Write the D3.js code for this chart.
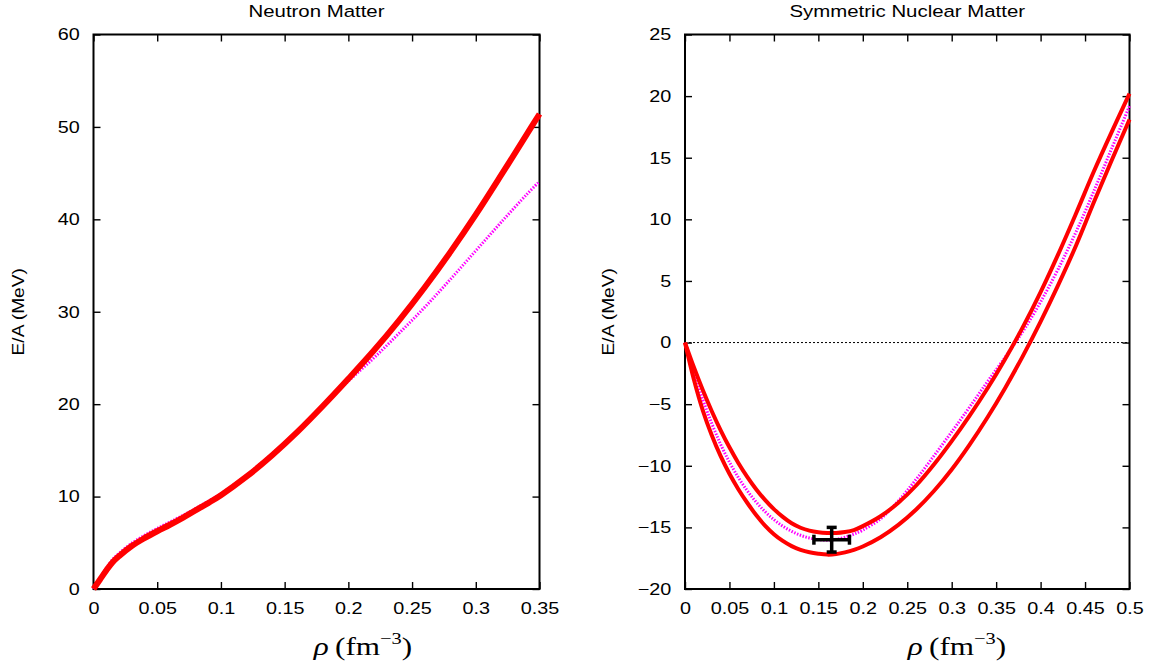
<!DOCTYPE html>
<html>
<head>
<meta charset="utf-8">
<script src="https://cdn.jsdelivr.net/npm/d3@7"></script>
<style>
body { margin: 0; background: #fff; }
svg text { font-family: "Liberation Sans", Arial, Helvetica, sans-serif; fill: #000; }
</style>
</head>
<body>
<svg id="chart" width="1153" height="666"></svg>
<script>
// ---- neutron matter (left panel) ----
var nmRho     = [0, 0.005, 0.01, 0.015, 0.02, 0.03, 0.04, 0.05, 0.06, 0.07, 0.08, 0.09, 0.10, 0.12, 0.14, 0.16, 0.18, 0.20, 0.22, 0.24, 0.26, 0.28, 0.30, 0.32, 0.34, 0.35];
var nmRed     = [0, 1.0, 2.0, 2.9, 3.55, 4.65, 5.5, 6.25, 6.95, 7.7, 8.5, 9.3, 10.15, 12.15, 14.45, 17.0, 19.8, 22.75, 25.8, 29.1, 32.65, 36.45, 40.5, 44.8, 49.2, 51.4];
var nmMagenta = [0, 1.2, 2.25, 3.2, 3.85, 4.95, 5.8, 6.55, 7.25, 7.95, 8.7, 9.5, 10.3, 12.3, 14.6, 17.1, 19.8, 22.5, 25.0, 27.7, 30.5, 33.5, 36.6, 39.7, 42.7, 44.1];
var nmXTicks  = [0, 0.05, 0.1, 0.15, 0.2, 0.25, 0.3, 0.35];
var nmYTicks  = [0, 10, 20, 30, 40, 50, 60];

// ---- symmetric nuclear matter (right panel) ----
var snmRho     = [0, 0.01, 0.02, 0.03, 0.04, 0.05, 0.06, 0.07, 0.08, 0.09, 0.10, 0.11, 0.12, 0.13, 0.14, 0.15, 0.16, 0.17, 0.18, 0.19, 0.20, 0.22, 0.24, 0.26, 0.28, 0.30, 0.32, 0.34, 0.36, 0.38, 0.40, 0.42, 0.44, 0.46, 0.48, 0.50];
var snmUpper   = [0, -2.0, -3.85, -5.55, -7.1, -8.5, -9.77, -10.9, -11.9, -12.77, -13.52, -14.15, -14.67, -15.03, -15.26, -15.39, -15.45, -15.46, -15.38, -15.22, -14.9, -14.1, -13.0, -11.6, -9.9, -8.0, -5.95, -3.75, -1.35, 1.25, 4.1, 7.2, 10.5, 13.9, 17.1, 20.2];
var snmLower   = [0, -3.0, -5.5, -7.5, -9.2, -10.65, -11.9, -13.0, -14.0, -14.85, -15.55, -16.1, -16.52, -16.82, -17.02, -17.14, -17.21, -17.17, -17.03, -16.83, -16.55, -15.8, -14.8, -13.55, -12.05, -10.3, -8.3, -6.1, -3.7, -1.1, 1.7, 4.7, 7.9, 11.4, 14.8, 18.1];
var snmMagenta = [0, -2.4, -4.6, -6.55, -8.25, -9.7, -10.95, -12.02, -12.94, -13.72, -14.37, -14.9, -15.32, -15.64, -15.86, -15.99, -16.04, -15.97, -15.8, -15.55, -15.22, -14.3, -12.85, -11.1, -9.2, -7.25, -5.25, -3.2, -1.2, 0.9, 3.3, 6.0, 9.0, 12.3, 15.75, 19.2];
var snmXTicks  = [0, 0.05, 0.1, 0.15, 0.2, 0.25, 0.3, 0.35, 0.4, 0.45, 0.5];
var snmYTicks  = [-20, -15, -10, -5, 0, 5, 10, 15, 20, 25];

// saturation point with error bars
var satRho = 0.165, satRhoErr = 0.02;
var satE = -16, satEErr = 1;

var svg = d3.select("#chart");
var SX = 1.2; // the original picture is stretched sideways, texts too

function zip(xs, ys) { return xs.map(function (x, i) { return [x, ys[i]]; }); }

function drawPanel(p) {
    var x = d3.scaleLinear().domain(p.xDomain).range([p.left, p.right]);
    var y = d3.scaleLinear().domain(p.yDomain).range([p.bottom, p.top]);
    var g = svg.append("g");

    // ticks on all 4 sides, pointing inwards
    var bottom = g.append("g").attr("transform", "translate(0," + p.bottom + ")")
        .call(d3.axisBottom(x).tickValues(p.xTicks).tickFormat(d3.format("~g")).tickSize(-7).tickPadding(13));
    var top = g.append("g").attr("transform", "translate(0," + p.top + ")")
        .call(d3.axisTop(x).tickValues(p.xTicks).tickFormat("").tickSize(-7));
    var left = g.append("g").attr("transform", "translate(" + p.left + ",0)")
        .call(d3.axisLeft(y).tickValues(p.yTicks).tickSize(-7).tickPadding(11.5));
    var right = g.append("g").attr("transform", "translate(" + p.right + ",0)")
        .call(d3.axisRight(y).tickValues(p.yTicks).tickFormat("").tickSize(-7));
    [bottom, top, left, right].forEach(function (a) {
        a.select(".domain").remove();
        a.selectAll(".tick line").attr("stroke", "#000").attr("stroke-width", 1.4);
        a.selectAll(".tick text").attr("font-size", 16.5).attr("transform", "scale(" + SX + ",1)");
    });

    if (p.zeroLine) {
        g.append("line")
            .attr("x1", p.left).attr("x2", p.right)
            .attr("y1", y(0)).attr("y2", y(0))
            .attr("stroke", "#000").attr("stroke-width", 1)
            .attr("stroke-dasharray", "2,2");
    }

    g.append("rect")
        .attr("x", p.left).attr("y", p.top)
        .attr("width", p.right - p.left).attr("height", p.bottom - p.top)
        .attr("fill", "none").attr("stroke", "#000").attr("stroke-width", 2);

    var line = d3.line()
        .x(function (d) { return x(d[0]); })
        .y(function (d) { return y(d[1]); })
        .curve(d3.curveCatmullRom.alpha(0.5));

    // magenta dotted first, red on top
    p.dotted.forEach(function (s) {
        g.append("path").attr("d", line(zip(p.rho, s)))
            .attr("fill", "none").attr("stroke", "#ff00ff")
            .attr("stroke-width", 3).attr("stroke-dasharray", "1.5,1.5");
    });
    p.solid.forEach(function (s) {
        g.append("path").attr("d", line(zip(p.rho, s)))
            .attr("fill", "none").attr("stroke", "#ff0000")
            .attr("stroke-width", p.redWidth).attr("stroke-linejoin", "round");
    });

    if (p.errbar) {
        var e = p.errbar, cap = 5;
        var eb = g.append("g").attr("stroke", "#000").attr("stroke-width", 3.5);
        eb.append("line").attr("x1", x(e.x - e.dx)).attr("x2", x(e.x + e.dx)).attr("y1", y(e.y)).attr("y2", y(e.y));
        eb.append("line").attr("x1", x(e.x)).attr("x2", x(e.x)).attr("y1", y(e.y - e.dy)).attr("y2", y(e.y + e.dy));
        [e.x - e.dx, e.x + e.dx].forEach(function (v) {
            eb.append("line").attr("x1", x(v)).attr("x2", x(v)).attr("y1", y(e.y) - cap).attr("y2", y(e.y) + cap);
        });
        [e.y - e.dy, e.y + e.dy].forEach(function (v) {
            eb.append("line").attr("x1", x(e.x) - cap).attr("x2", x(e.x) + cap).attr("y1", y(v)).attr("y2", y(v));
        });
    }

    // title
    g.append("text")
        .attr("transform", "translate(" + (p.left + p.right) / 2 + ",16.5) scale(" + SX + ",1)")
        .attr("text-anchor", "middle").attr("font-size", 17)
        .text(p.title);

    // y axis title
    g.append("text")
        .attr("transform", "translate(" + p.yTitleX + "," + (p.top + p.bottom) / 2 + ") rotate(-90) scale(" + SX + ",1)")
        .attr("text-anchor", "middle").attr("font-size", 16)
        .text("E/A (MeV)");

    // x axis title, LaTeX like
    var xt = g.append("text")
        .attr("transform", "translate(" + p.xTitleX + ",655) scale(" + SX + ",1)")
        .attr("text-anchor", "middle")
        .style("font-family", "'Liberation Serif', 'DejaVu Serif', serif")
        .attr("font-size", 26);
    xt.append("tspan").style("font-style", "italic").text("\u03c1");
    xt.append("tspan").text("\u2009(fm");
    xt.append("tspan").attr("font-size", 17).attr("dy", -11).text("\u22123");
    xt.append("tspan").attr("dy", 11).text(")");
}

drawPanel({
    title: "Neutron Matter",
    left: 93.5, right: 539.5, top: 34.5, bottom: 589,
    xDomain: [0, 0.35], yDomain: [0, 60],
    xTicks: nmXTicks, yTicks: nmYTicks,
    rho: nmRho, solid: [nmRed], dotted: [nmMagenta], redWidth: 6,
    yTitleX: 24, xTitleX: 363
});

drawPanel({
    title: "Symmetric Nuclear Matter",
    left: 685, right: 1129.5, top: 34.5, bottom: 589,
    xDomain: [0, 0.5], yDomain: [-20, 25],
    xTicks: snmXTicks, yTicks: snmYTicks,
    rho: snmRho, solid: [snmUpper, snmLower], dotted: [snmMagenta], redWidth: 4,
    zeroLine: true,
    errbar: { x: satRho, dx: satRhoErr, y: satE, dy: satEErr },
    yTitleX: 614, xTitleX: 957
});
</script>
</body>
</html>
